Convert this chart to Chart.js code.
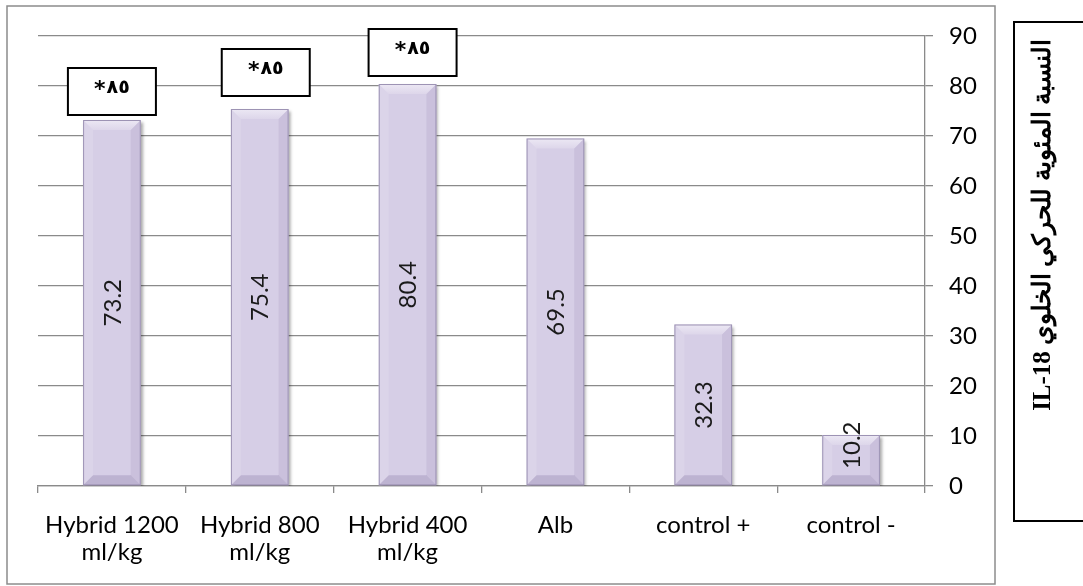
<!DOCTYPE html>
<html>
<head>
<meta charset="utf-8">
<script src="https://cdn.jsdelivr.net/npm/chart.js@4/dist/chart.umd.min.js"></script>
<style>
  html, body { margin: 0; padding: 0; background: #fff; }
  #wrap { width: 1083px; height: 586px; position: relative; }
</style>
</head>
<body>
<div id="wrap"><canvas id="c" width="1083" height="586"></canvas></div>
<script>
// Groups on the horizontal axis
const categories = [
  ['Hybrid 1200', 'ml/kg'],
  ['Hybrid 800', 'ml/kg'],
  ['Hybrid 400', 'ml/kg'],
  'Alb',
  'control +',
  'control -'
];
// IL-18 percentage per group
const values = [73.2, 75.4, 80.4, 69.5, 32.3, 10.2];
// Significance note shown above a bar (empty = none): asterisk + number
const markStars = ['*', '*', '*', '', '', ''];
const markNumbers = ['٨٥', '٨٥', '٨٥', '', '', ''];
// Value axis range and step
const yMin = 0, yMax = 90, yStep = 10;
const axisTitle = 'النسبة المئوية للحركي الخلوي IL-18';

const GRID = '#8a8a8a';
const LABEL_FONT = 'Lato, "Open Sans", sans-serif';

// Bevelled bars, rotated value labels and the boxed notes
const decorPlugin = {
  id: 'decor',
  beforeDraw(chart) {
    const ctx = chart.ctx;
    ctx.save();
    ctx.fillStyle = '#fff';
    ctx.fillRect(0, 0, chart.width, chart.height);
    ctx.restore();
  },
  beforeDatasetDraw(chart) {
    const ctx = chart.ctx;
    ctx.save();
    ctx.shadowColor = 'rgba(0,0,0,0.35)';
    ctx.shadowBlur = 3;
    ctx.shadowOffsetX = 2;
    ctx.shadowOffsetY = 2;
  },
  afterDatasetDraw(chart) {
    chart.ctx.restore();
  },
  afterDatasetsDraw(chart, args, opts) {
    const ctx = chart.ctx;
    const meta = chart.getDatasetMeta(0);
    meta.data.forEach((bar, i) => {
      const l = bar.x - bar.width / 2, r = bar.x + bar.width / 2;
      const t = bar.y, b = bar.base;
      const bv = Math.min(10, (b - t) / 3);
      ctx.save();
      // top bevel
      let g = ctx.createLinearGradient(0, t, 0, t + bv);
      g.addColorStop(0, '#ece8f4');
      g.addColorStop(1, '#ddd6ea');
      ctx.fillStyle = g;
      ctx.beginPath();
      ctx.moveTo(l, t); ctx.lineTo(r, t); ctx.lineTo(r - bv, t + bv); ctx.lineTo(l + bv, t + bv); ctx.closePath();
      ctx.fill();
      // left bevel
      ctx.fillStyle = 'rgba(255,255,255,0.12)';
      ctx.beginPath();
      ctx.moveTo(l, t); ctx.lineTo(l + bv, t + bv); ctx.lineTo(l + bv, b - bv); ctx.lineTo(l, b); ctx.closePath();
      ctx.fill();
      // right bevel
      ctx.fillStyle = 'rgba(60,40,100,0.08)';
      ctx.beginPath();
      ctx.moveTo(r, t); ctx.lineTo(r - bv, t + bv); ctx.lineTo(r - bv, b - bv); ctx.lineTo(r, b); ctx.closePath();
      ctx.fill();
      // bottom bevel
      ctx.fillStyle = 'rgba(60,40,100,0.16)';
      ctx.beginPath();
      ctx.moveTo(l, b); ctx.lineTo(r, b); ctx.lineTo(r - bv, b - bv); ctx.lineTo(l + bv, b - bv); ctx.closePath();
      ctx.fill();
      // edges
      ctx.strokeStyle = '#9d93b4';
      ctx.lineWidth = 1;
      ctx.strokeRect(l + 0.5, t + 0.5, r - l - 1, b - t - 1);
      ctx.restore();

      // value label, rotated, centered in the bar
      const shift = (opts.labelShift && opts.labelShift[i]) || 0;
      ctx.save();
      ctx.translate(bar.x, (t + b) / 2 + shift);
      ctx.rotate(-Math.PI / 2);
      ctx.font = '24px ' + LABEL_FONT;
      ctx.fillStyle = '#1a1a1a';
      ctx.textAlign = 'center';
      ctx.textBaseline = 'middle';
      ctx.fillText(String(values[i]), 0, 1);
      ctx.restore();

      // boxed note above the bar
      if (markStars[i] || markNumbers[i]) {
        const off = opts.boxOffsets[i];
        const w = 88, h = 47;
        const cx = bar.x + off.dx;
        const bottom = t - off.gap;
        ctx.save();
        ctx.fillStyle = '#fff';
        ctx.fillRect(cx - w / 2, bottom - h, w, h);
        ctx.strokeStyle = '#000';
        ctx.lineWidth = 2;
        ctx.strokeRect(cx - w / 2, bottom - h, w, h);
        ctx.fillStyle = '#000';
        ctx.textBaseline = 'middle';
        ctx.textAlign = 'left';
        ctx.direction = 'ltr';
        const starFont = 'bold 22px "DejaVu Sans", sans-serif';
        const numFont = 'bold 19px "DejaVu Sans", sans-serif';
        ctx.font = starFont;
        const sw = ctx.measureText(markStars[i]).width;
        ctx.font = numFont;
        const nw = ctx.measureText(markNumbers[i]).width;
        const x0 = cx - (sw + nw + 1) / 2;
        const ty = bottom - h / 2 - 3;
        ctx.font = starFont;
        ctx.fillText(markStars[i], x0, ty + 2);
        ctx.font = numFont;
        ctx.fillText(markNumbers[i], x0 + sw + 1, ty);
        ctx.restore();
      }
    });
  },
  afterDraw(chart) {
    const ctx = chart.ctx;
    ctx.save();
    // chart frame
    ctx.strokeStyle = '#8c8c8c';
    ctx.lineWidth = 1.5;
    ctx.strokeRect(7, 6, 988, 578);
    // axis title box
    ctx.strokeStyle = '#000';
    ctx.lineWidth = 2;
    ctx.strokeRect(1014, 22, 80, 499);
    ctx.translate(1044, 225);
    ctx.rotate(-Math.PI / 2);
    ctx.font = 'bold 25px "Liberation Serif", "DejaVu Serif", serif';
    ctx.fillStyle = '#000';
    ctx.textAlign = 'center';
    ctx.textBaseline = 'middle';
    ctx.direction = 'rtl';
    ctx.fillText(axisTitle, 0, 0);
    ctx.restore();
  }
};

new Chart(document.getElementById('c'), {
  type: 'bar',
  data: {
    labels: categories,
    datasets: [{
      data: values,
      backgroundColor: '#d6cee6',
      borderWidth: 0,
      categoryPercentage: 1,
      barPercentage: 0.39
    }]
  },
  options: {
    responsive: false,
    animation: false,
    devicePixelRatio: 1,
    layout: { padding: { left: 38, top: 36, right: 88, bottom: 0 } },
    plugins: {
      legend: { display: false },
      tooltip: { enabled: false },
      decor: {
        labelShift: [0, 0, 0, 0, 0, -15],
        boxOffsets: [
          { dx: 0, gap: 5 },
          { dx: 6, gap: 13 },
          { dx: 5, gap: 8 }
        ]
      }
    },
    scales: {
      x: {
        grid: {
          offset: true,
          drawOnChartArea: false,
          drawTicks: true,
          tickLength: 7,
          color: GRID,
          lineWidth: 1.3
        },
        border: { color: GRID, width: 1.3 },
        ticks: {
          color: '#000',
          font: { family: LABEL_FONT, size: 24, lineHeight: 1.15 },
          padding: 18,
          maxRotation: 0,
          autoSkip: false
        },
        afterFit(s) { s.height = 100; }
      },
      y: {
        position: 'right',
        min: yMin,
        max: yMax,
        grid: { color: GRID, lineWidth: 1.3, tickLength: 8 },
        border: { color: GRID, width: 1.3 },
        ticks: {
          stepSize: yStep,
          color: '#000',
          font: { family: LABEL_FONT, size: 24 },
          padding: 16
        },
        afterFit(s) { s.width = 70; }
      }
    }
  },
  plugins: [decorPlugin]
});
</script>
</body>
</html>
